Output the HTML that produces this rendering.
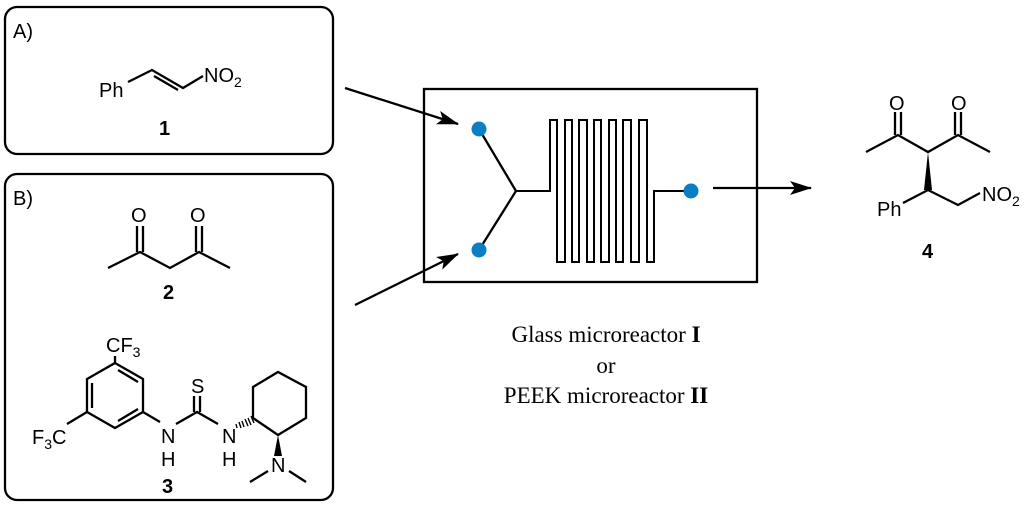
<!DOCTYPE html>
<html><head><meta charset="utf-8"><style>body{margin:0;background:#fff}svg{display:block}</style></head>
<body>
<svg width="1024" height="505" viewBox="0 0 1024 505" xmlns="http://www.w3.org/2000/svg">
<defs><marker id="ah" markerWidth="22" markerHeight="14" refX="21" refY="7" orient="auto" markerUnits="userSpaceOnUse"><path d="M0,0 L22,7 L0,14 L5,7 Z" fill="#000"/></marker></defs>
<g fill="none" stroke="#000" stroke-width="2.3">
<rect x="5" y="7" width="328" height="147" rx="12"/>
<rect x="5" y="174" width="328" height="326" rx="12"/>
<rect x="424" y="89" width="333" height="193"/>
<line x1="345" y1="88" x2="458" y2="124" marker-end="url(#ah)"/>
<line x1="355" y1="305" x2="458" y2="254" marker-end="url(#ah)"/>
<line x1="713" y1="188" x2="811" y2="188" marker-end="url(#ah)"/>
<polyline points="479,129 516,191 479,250"/>
<polyline stroke-width="2" points="516,191 550,191 550,120 557,120 557,262 565,262 565,120 572,120 572,262 579,262 579,120 587,120 587,262 594,262 594,120 601,120 601,262 609,262 609,120 616,120 616,262 623,262 623,120 631,120 631,262 639,262 639,120 647,120 647,262 654,262 654,191 691,191"/>
<polyline points="128,82 152,70 183,88 203,76"/>
<line x1="154" y1="76" x2="178" y2="90"/>
<polyline points="866,152 898,135 928,152 958,135 990,152"/>
<line x1="895" y1="135" x2="895" y2="112"/><line x1="901" y1="135" x2="901" y2="112"/>
<line x1="955" y1="135" x2="955" y2="112"/><line x1="961" y1="135" x2="961" y2="112"/>
<polyline points="903,203 928,190 958,205 980,193"/>
<polyline points="108,268 140,252 170,268 199,252 230,268"/>
<line x1="137" y1="252" x2="137" y2="226"/><line x1="143" y1="252" x2="143" y2="226"/>
<line x1="196" y1="252" x2="196" y2="226"/><line x1="202" y1="252" x2="202" y2="226"/>
<polygon points="115,363 143,379 143,412 115,428 87,412 87,379"/>
<line x1="92" y1="383" x2="92" y2="408"/>
<line x1="118" y1="421" x2="138" y2="409"/>
<line x1="118" y1="370" x2="138" y2="382"/>
<line x1="115" y1="363" x2="115" y2="356"/>
<line x1="87" y1="412" x2="67" y2="424"/>
<line x1="143" y1="412" x2="160" y2="422"/>
<polyline points="176,424 197,412 218,424"/>
<line x1="194" y1="412" x2="194" y2="396"/><line x1="200" y1="412" x2="200" y2="396"/>
<polygon points="253,387 278,372 306,387 306,418 278,435 253,418"/>
<line x1="268" y1="471" x2="250" y2="482"/>
<line x1="289" y1="471" x2="306" y2="482"/>
</g>
<g stroke="#000" stroke-width="1.4">
<line x1="236" y1="424" x2="237" y2="428"/><line x1="239" y1="422" x2="241" y2="428"/><line x1="242" y1="421" x2="244" y2="427"/><line x1="245" y1="419" x2="248" y2="426"/><line x1="248" y1="418" x2="251" y2="425"/><line x1="251" y1="416" x2="254" y2="423"/>
</g>
<polygon points="928,152 924,190 932,190" fill="#000"/>
<polygon points="278,435 274,456 282,456" fill="#000"/>
<g fill="#0a7fc4"><circle cx="479" cy="129" r="7.5"/><circle cx="479" cy="250" r="7.5"/><circle cx="691" cy="191" r="7.5"/></g>
<g font-family="Liberation Sans, sans-serif" font-size="20" fill="#000">
<text x="13" y="38">A)</text>
<text x="13" y="205">B)</text>
<text x="99" y="97">Ph</text>
<text x="204" y="82">NO<tspan font-size="14" dy="5">2</tspan></text>
<text x="159" y="135" font-weight="bold">1</text>
<text x="131" y="222">O</text><text x="190" y="222">O</text>
<text x="163" y="299" font-weight="bold">2</text>
<text x="106" y="352">CF<tspan font-size="14" dy="5">3</tspan></text>
<text x="32" y="444">F<tspan font-size="14" dy="5">3</tspan><tspan dy="-5">C</tspan></text>
<text x="161" y="443">N</text><text x="161" y="466">H</text>
<text x="191" y="393">S</text>
<text x="222" y="443">N</text><text x="222" y="466">H</text>
<text x="271" y="472">N</text>
<text x="162" y="493" font-weight="bold">3</text>
<text x="889" y="110">O</text><text x="951" y="110">O</text>
<text x="877" y="216">Ph</text>
<text x="982" y="201">NO<tspan font-size="14" dy="5">2</tspan></text>
<text x="922" y="258" font-weight="bold">4</text>
</g>
<g font-family="Liberation Serif, serif" font-size="23" fill="#000" text-anchor="middle">
<text x="606" y="342">Glass microreactor <tspan font-weight="bold">I</tspan></text>
<text x="606" y="373">or</text>
<text x="606" y="403">PEEK microreactor <tspan font-weight="bold">II</tspan></text>
</g>
</svg>
</body></html>
